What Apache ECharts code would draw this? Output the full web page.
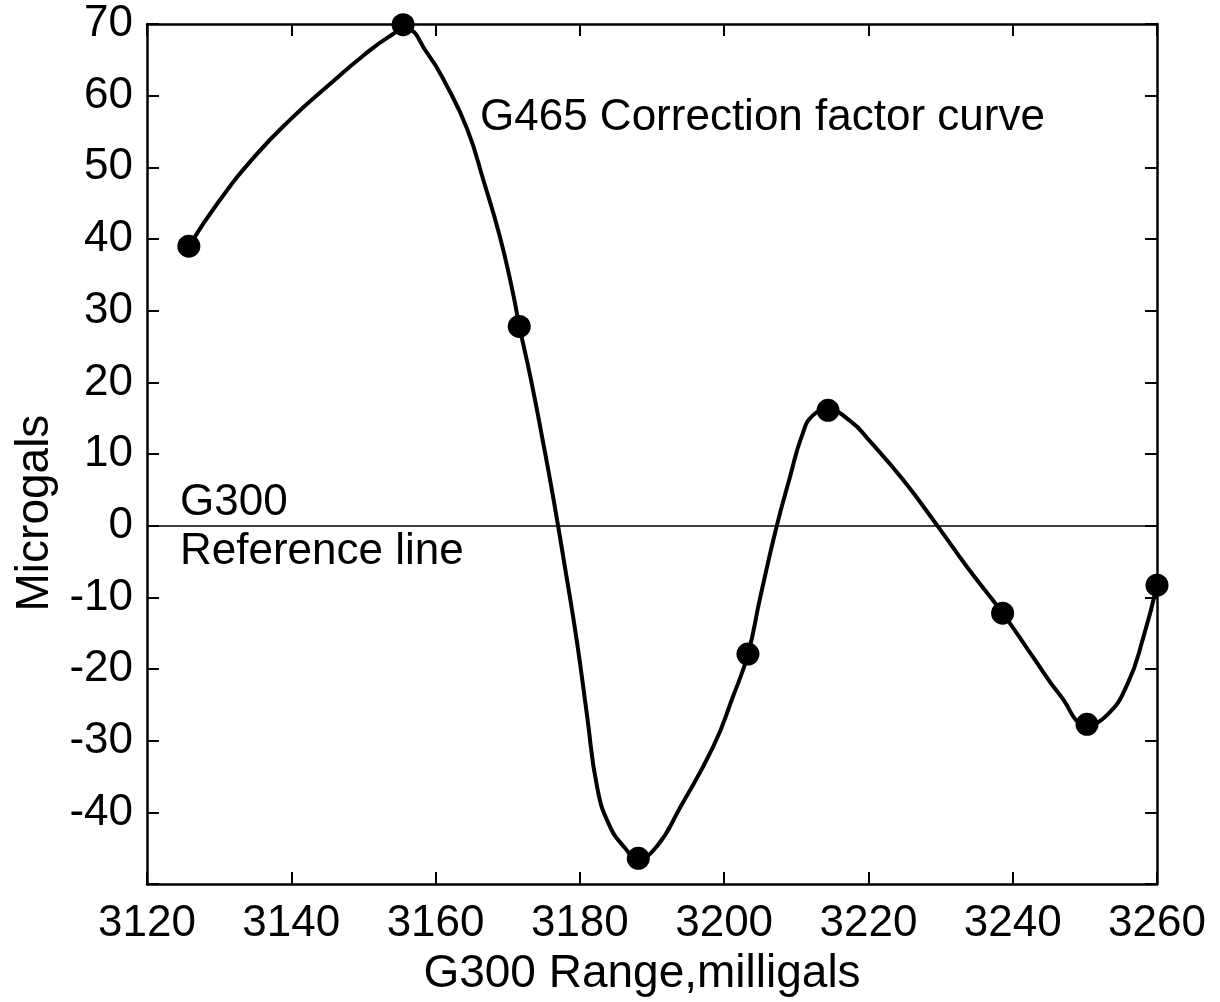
<!DOCTYPE html>
<html><head><meta charset="utf-8">
<script src="https://cdn.jsdelivr.net/npm/echarts@6/dist/echarts.min.js"></script>
<style>html,body{margin:0;padding:0;background:#fff}#c{width:1220px;height:1002px}</style>
</head><body><div id="c"></div>
<script>
// Measured points (G300 range, milligals -> microgals)
const pointX = [3125.8, 3155.5, 3171.6, 3188.1, 3203.3, 3214.4, 3238.6, 3250.3, 3260.0];
const pointY = [39.0, 69.9, 27.8, -46.4, -17.9, 16.1, -12.2, -27.7, -8.3];
// Correction factor curve
const curveX = [3125.8, 3130.0, 3135.0, 3140.0, 3145.0, 3150.0, 3153.5, 3155.8, 3158.8, 3161.6, 3164.4, 3166.6, 3168.9, 3170.7, 3171.6, 3173.2, 3174.8, 3176.4, 3178.0, 3179.6, 3181.0, 3182.4, 3184.0, 3186.2, 3188.1, 3190.7, 3193.9, 3198.5, 3201.2, 3203.3, 3205.0, 3207.3, 3209.1, 3210.8, 3212.3, 3214.4, 3217.5, 3220.2, 3224.8, 3229.7, 3233.7, 3238.6, 3242.8, 3246.6, 3250.3, 3253.1, 3255.9, 3258.1, 3260.0];
const curveY = [39.0, 45.3, 51.6, 56.8, 61.3, 65.6, 68.2, 69.3, 66.0, 61.3, 55.3, 48.3, 40.4, 32.6, 27.9, 20.5, 12.2, 3.4, -6.2, -16.2, -26.5, -36.5, -41.6, -44.9, -46.4, -44.7, -39.3, -30.8, -23.9, -17.9, -10.0, 0.0, 6.7, 12.6, 15.4, 16.1, 14.6, 11.8, 6.4, -0.2, -5.8, -12.2, -18.3, -23.7, -27.7, -26.4, -22.1, -15.6, -8.3];
const xTicks = {min: 3120, max: 3260, interval: 20};
const yTicks = {min: -50, max: 70, interval: 10};
const hiddenYLabels = [-50];
const xName = 'G300 Range,milligals';
const yName = 'Microgals';
const curveLabel = 'G465 Correction factor curve';
const refLabel1 = 'G300';
const refLabel2 = 'Reference line';

const FONT = 'Liberation Sans';
const chart = echarts.init(document.getElementById('c'), null, {renderer: 'canvas'});
const axisLine = {show: true, onZero: false, lineStyle: {color: '#000', width: 2.5}};
const axisTick = {show: true, inside: true, length: 12, lineStyle: {color: '#000', width: 2}};
const labelStyle = {color: '#000', fontSize: 44, fontFamily: FONT};

chart.setOption({
  animation: false,
  backgroundColor: '#fff',
  grid: {left: 147, right: 63, top: 24, bottom: 114, containLabel: false},
  xAxis: [
    {type: 'value', position: 'bottom', min: xTicks.min, max: xTicks.max, interval: xTicks.interval,
     axisLine, axisTick, splitLine: {show: false},
     axisLabel: Object.assign({margin: 18, formatter: v => String(v)}, labelStyle),
     name: xName, nameLocation: 'middle', nameGap: 66,
     nameTextStyle: {color: '#000', fontSize: 46, fontFamily: FONT, padding: [0, 20, 0, 0]}},
    {type: 'value', position: 'top', min: xTicks.min, max: xTicks.max, interval: xTicks.interval,
     axisLine, axisTick, splitLine: {show: false}, axisLabel: {show: false}}
  ],
  yAxis: [
    {type: 'value', position: 'left', min: yTicks.min, max: yTicks.max, interval: yTicks.interval,
     axisLine, axisTick, splitLine: {show: false},
     axisLabel: Object.assign({margin: 14, formatter: v => hiddenYLabels.includes(v) ? '' : String(v)}, labelStyle),
     name: yName, nameLocation: 'middle', nameGap: 88, nameRotate: 90,
     nameTextStyle: {color: '#000', fontSize: 46, fontFamily: FONT, padding: [0, 118, 0, 0]}},
    {type: 'value', position: 'right', min: yTicks.min, max: yTicks.max, interval: yTicks.interval,
     axisLine, axisTick, splitLine: {show: false}, axisLabel: {show: false}}
  ],
  series: [
    {type: 'line', xAxisIndex: 0, yAxisIndex: 0, smooth: 0.5, showSymbol: false,
     data: curveX.map((x, i) => [x, curveY[i]]),
     lineStyle: {color: '#000', width: 4},
     markLine: {silent: true, symbol: 'none', label: {show: false},
       lineStyle: {color: '#000', width: 1.5, type: 'solid'}, data: [{yAxis: 0}]}},
    {type: 'scatter', xAxisIndex: 0, yAxisIndex: 0, clip: false, symbol: 'circle', symbolSize: 23,
     data: pointX.map((x, i) => [x, pointY[i]]),
     itemStyle: {color: '#000', opacity: 1}}
  ],
  graphic: [
    {type: 'text', left: 480, top: 96, style: {text: curveLabel, fill: '#000', font: '44px ' + FONT}},
    {type: 'text', left: 180, top: 481, style: {text: refLabel1, fill: '#000', font: '44px ' + FONT}},
    {type: 'text', left: 180, top: 530, style: {text: refLabel2, fill: '#000', font: '44px ' + FONT}}
  ]
});
</script></body></html>
